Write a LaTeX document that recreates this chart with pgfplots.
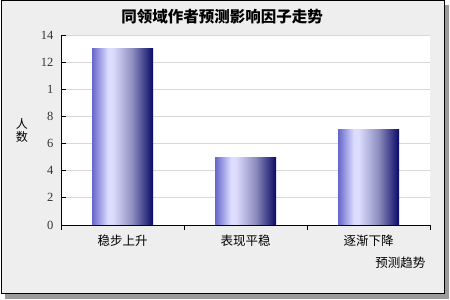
\documentclass[border=0pt]{standalone}
\usepackage{pgfplots}
\pgfplotsset{compat=1.18}
\usepackage{fontspec}
\setmainfont{Liberation Serif}
\newfontfamily\cjk{Noto Sans CJK SC}

\definecolor{panelbg}{HTML}{EEEEEE}
\definecolor{shadowgray}{HTML}{9A9A9A}
\definecolor{gridgray}{HTML}{D8D8D8}
\definecolor{barA}{HTML}{6666CC}
\definecolor{barB}{HTML}{DCDCFF}
\definecolor{barC}{HTML}{8E8EC0}
\definecolor{barD}{HTML}{0A0A66}

% left-to-right cylinder look of the bars (the path is mapped onto 25bp..75bp)
\pgfdeclarehorizontalshading{barshade}{100bp}{%
  color(0bp)=(barA); color(25bp)=(barA); color(38bp)=(barB); color(42bp)=(barB);
  color(58bp)=(barC); color(75bp)=(barD); color(100bp)=(barD)}

\begin{document}
\begin{tikzpicture}[x=1pt,y=1pt]
  % canvas, drop shadow and framed panel
  \path[use as bounding box] (0pt,0pt) rectangle (450pt,300pt);
  \fill[white] (0pt,0pt) rectangle (450pt,300pt);
  \fill[shadowgray] (5pt,1pt) rectangle (449pt,295pt);
  \fill[panelbg,draw=black,line width=1pt] (1pt,6pt) rectangle (444pt,299pt);

  \begin{axis}[
    at={(61pt,75pt)}, anchor=south west,
    scale only axis, width=369pt, height=190pt,
    axis background/.style={fill=white},
    axis x line*=bottom, axis y line*=left,
    axis line style={black, line width=0.8pt},
    xmin=-0.5, xmax=2.5, ymin=0, ymax=14,
    xtick={0,1,2},
    xticklabels={{\cjk 稳步上升},{\cjk 表现平稳},{\cjk 逐渐下降}},
    major x tick style={draw=none},
    minor xtick={-0.5,0.5,1.5,2.5},
    minor x tick style={black, line width=0.8pt},
    minor tick length=5pt,
    ytick={0,2,4,6,8,10,12,14},
    yticklabels={0,2,4,6,8,1,12,14},
    ytick style={black, line width=0.8pt},
    major tick length=5pt,
    tick align=inside,
    ymajorgrids, grid style={gridgray, line width=0.8pt},
    ticklabel style={font=\fontsize{12.5}{12.5}\selectfont, text=black},
    yticklabel style={xshift=-4pt, text=black!80},
    xticklabel style={yshift=-1pt},
    /pgf/number format/assume math mode=true,
    ybar, bar width=61pt, bar shift=0pt,
    every axis plot/.append style={draw=none, shading=barshade},
    clip=false,
  ]
    % one plot per bar so each bar gets its own shading
    \addplot coordinates {(0,13)};
    \addplot coordinates {(1,5)};
    \addplot coordinates {(2,7)};
  \end{axis}

  % title and axis titles
  \node[font=\cjk\bfseries\fontsize{15.5}{15.5}\selectfont] at (222pt,283pt) {同领域作者预测影响因子走势};
  \node[font=\cjk\fontsize{12}{13}\selectfont, align=center] at (22pt,170pt) {人\\数};
  \node[font=\cjk\fontsize{12.5}{12.5}\selectfont, anchor=east] at (429pt,37pt) {预测趋势};
\end{tikzpicture}
\end{document}
